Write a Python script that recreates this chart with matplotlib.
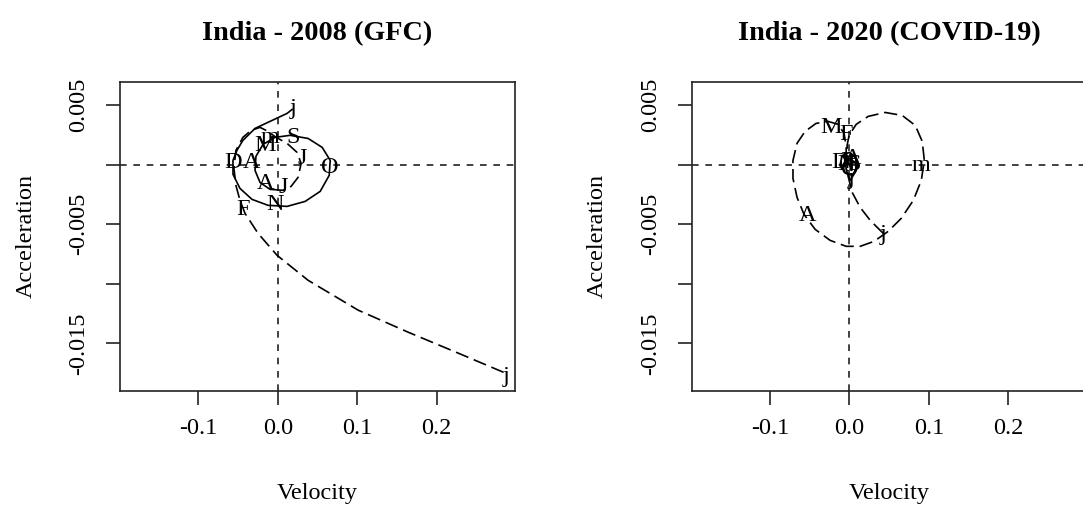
import matplotlib
matplotlib.use("Agg")
import matplotlib.pyplot as plt

## Settings ##
output_img = "out.png"
plt.rcParams['font.family'] = ['Liberation Serif', 'DejaVu Serif']
plt.rcParams['axes.unicode_minus'] = False
## END Settings ##

titles = ["India - 2008 (GFC)", "India - 2020 (COVID-19)"]
x_ticks = [-0.1, 0.0, 0.1, 0.2]
x_ticklabels = ["-0.1", "0.0", "0.1", "0.2"]
y_ticks = [0.005, 0.0, -0.005, -0.01, -0.015]
y_ticklabels = ["0.005", "", "-0.005", "", "-0.015"]
x_lim = (-0.18, 0.28)
y_lim = (-0.018, 0.006)

# 2008: first half of the year (dashed) and second half (solid)
vel_2008_a = [0.2841, 0.2274, 0.1643, 0.1013, 0.0382, -0.0009, -0.0248, -0.0412,
              -0.0475, -0.0526, -0.0551, -0.0526, -0.0438, -0.0337, -0.0223, -0.0122,
              -0.0021, 0.0117, 0.0243, 0.0294, 0.0256, 0.0168, 0.0067]
acc_2008_a = [-0.01742, -0.01582, -0.01406, -0.01221, -0.00970, -0.00760, -0.00576, -0.00408,
              -0.00299, -0.00174, -0.00031, 0.00120, 0.00229, 0.00287, 0.00313, 0.00279,
              0.00229, 0.00179, 0.00103, 0.00011, -0.00106, -0.00182, -0.00215]
vel_2008_b = [0.0067, -0.0097, -0.0223, -0.0286, -0.0274, -0.0185, -0.0034, 0.0155,
              0.0382, 0.0559, 0.0660, 0.0647, 0.0534, 0.0345, 0.0117, -0.0122,
              -0.0324, -0.0475, -0.0563, -0.0563, -0.0513, -0.0438, -0.0286, -0.0072,
              0.0117, 0.0180]
acc_2008_b = [-0.00215, -0.00207, -0.00149, -0.00048, 0.00070, 0.00170, 0.00229, 0.00246,
              0.00220, 0.00145, 0.00036, -0.00090, -0.00224, -0.00308, -0.00350, -0.00341,
              -0.00291, -0.00199, -0.00081, 0.00036, 0.00120, 0.00204, 0.00304, 0.00371,
              0.00430, 0.00463]

# 2020
vel_2020_a = [0.0426, 0.0262, 0.0136, 0.0035, -0.0015, -0.0028, -0.0028, -0.0003,
              0.0086, 0.0237, 0.0451, 0.0665, 0.0829, 0.0917, 0.0943, 0.0905,
              0.0804, 0.0653, 0.0489, 0.0312, 0.0136, -0.0040, -0.0242, -0.0431,
              -0.0570, -0.0658, -0.0709, -0.0709, -0.0658, -0.0557, -0.0419, -0.0267,
              -0.0141, -0.0066, -0.0040, -0.0040]
acc_2020_a = [-0.00576, -0.00467, -0.00358, -0.00232, -0.00098, 0.00036, 0.00162, 0.00246,
              0.00338, 0.00405, 0.00438, 0.00413, 0.00329, 0.00195, 0.00036, -0.00132,
              -0.00300, -0.00450, -0.00559, -0.00643, -0.00685, -0.00685, -0.00635, -0.00542,
              -0.00417, -0.00274, -0.00115, 0.00036, 0.00179, 0.00279, 0.00346, 0.00363,
              0.00338, 0.00262, 0.00153, 0.00053]
vel_2020_b = [-0.0040, 0.0023, 0.0086, 0.0098, 0.0035, -0.0053, -0.0116, -0.0091,
              -0.0003, 0.0073, 0.0098, 0.0073, 0.0010, -0.0028, -0.0053, -0.0003,
              0.0048, 0.0023]
acc_2020_b = [0.00053, 0.00086, 0.00053, -0.00023, -0.00090, -0.00065, 0.00003, 0.00070,
              0.00103, 0.00070, 0.00011, -0.00065, -0.00132, -0.00065, 0.00011, 0.00053,
              0.00019, -0.00031]

month_letters = ["j", "F", "m", "A", "M", "J", "J", "A", "S", "O", "N", "D", "j"]
lab_vel_2008 = [0.2869, -0.0438, -0.0097, -0.0324, -0.0160, 0.0306, 0.0067, -0.0160,
                0.0193, 0.0660, -0.0034, -0.0564, 0.0194]
lab_acc_2008 = [-0.01776, -0.00375, 0.00229, 0.00019, 0.00162, 0.00053, -0.00190, -0.00157,
                0.00229, -0.00023, -0.00333, 0.00019, 0.00472]
lab_vel_2020 = [0.0426, -0.0040, 0.0905, -0.0520, -0.0230, -0.0078, -0.0003, 0.0035,
                0.0061, 0.0010, -0.0040, -0.0116, 0.0023]
lab_acc_2020 = [-0.00584, 0.00254, -0.00006, -0.00425, 0.00313, 0.00028, -0.00006, 0.00053,
                0.00003, -0.00039, 0.00003, 0.00019, -0.00115]

panels = [
    (titles[0], vel_2008_a, acc_2008_a, vel_2008_b, acc_2008_b, lab_vel_2008, lab_acc_2008),
    (titles[1], vel_2020_a, acc_2020_a, vel_2020_b, acc_2020_b, lab_vel_2020, lab_acc_2020),
]

W, H = 1083, 507
fig = plt.figure(figsize=(W / 100, H / 100), dpi=100)
ax_left_px = [120, 691.6]
box_w, box_top, box_bot = 395, 81.7, 390.7

for i, (title, va, aa, vb, ab, lv, la) in enumerate(panels):
    ax = fig.add_axes([ax_left_px[i] / W, 1 - box_bot / H, box_w / W, (box_bot - box_top) / H])
    ax.axhline(0, color="#222222", lw=1.2, dashes=(4, 4))
    ax.axvline(0, color="#222222", lw=1.2, dashes=(4, 4))
    ax.plot(va, aa, color="black", lw=1.2, dashes=(8, 3.5))
    ax.plot(vb, ab, color="black", lw=1.2)
    for t, x, y in zip(month_letters, lv, la):
        ax.text(x, y, t, fontsize=17.5, ha="center", va="center")
    ax.set_xlim(x_lim[0] - 0.04 * (x_lim[1] - x_lim[0]), x_lim[1] + 0.04 * (x_lim[1] - x_lim[0]))
    ax.set_ylim(y_lim[0] - 0.04 * (y_lim[1] - y_lim[0]), y_lim[1] + 0.04 * (y_lim[1] - y_lim[0]))
    ax.set_xticks(x_ticks)
    ax.set_xticklabels(x_ticklabels)
    ax.set_yticks(y_ticks)
    ax.set_yticklabels(y_ticklabels, rotation=90, va="center")
    ax.tick_params(length=10, width=1.2, labelsize=17.5, color="#222222")
    ax.tick_params(axis="x", pad=10)
    ax.tick_params(axis="y", pad=12)
    for s in ax.spines.values():
        s.set_linewidth(1.2)
        s.set_color("#222222")
    ax.set_title(title, fontsize=20.3, fontweight="bold", pad=30)
    ax.set_xlabel("Velocity", fontsize=17.5)
    ax.xaxis.label.set_va("center")
    ax.xaxis.set_label_coords(0.5, (box_bot - 493) / (box_bot - box_top))
    ax.set_ylabel("Acceleration", fontsize=17.5)
    ax.yaxis.label.set_va("center")
    ax.yaxis.set_label_coords((26 - ax_left_px[0]) / box_w, 0.5)

plt.savefig(output_img, dpi=100)
